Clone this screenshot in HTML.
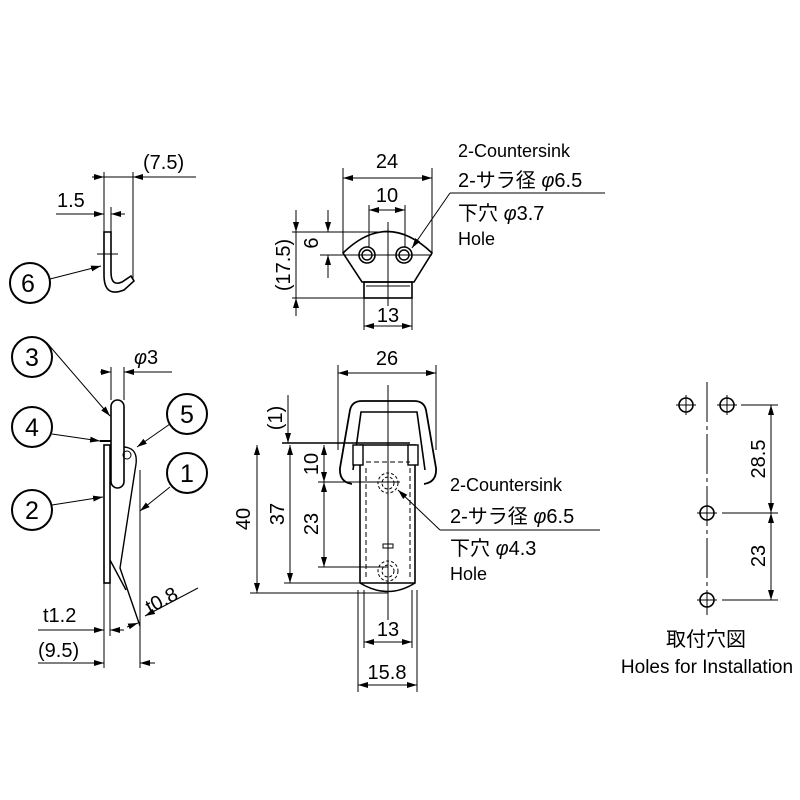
<!DOCTYPE html>
<html><head><meta charset="utf-8"><style>body{margin:0;background:#fff}svg{display:block}</style></head><body>
<svg width="800" height="800" viewBox="0 0 800 800" xmlns="http://www.w3.org/2000/svg" font-family="Liberation Sans, Noto Sans CJK JP, sans-serif" fill="none" stroke="#000">
<defs><marker id="a" viewBox="0 0 10 6" refX="10" refY="3" markerWidth="10" markerHeight="6" orient="auto-start-reverse" markerUnits="userSpaceOnUse"><path d="M0 0L10 3L0 6z" fill="#000" stroke="none"/></marker></defs>
<g stroke-width="1">
<!-- part 6 -->
<circle cx="30" cy="283" r="20" stroke-width="2"/>
<line x1="50" y1="279" x2="101" y2="266" marker-end="url(#a)"/>
<path d="M104 232H111V272Q111 287 122 282L131 276L134 281L124 290Q104 298 104 275Z" stroke-width="1.6"/>
<line x1="97" y1="254" x2="118" y2="254"/>
<line x1="104" y1="172" x2="104" y2="232"/><line x1="133" y1="172" x2="133" y2="280"/><line x1="111" y1="207" x2="111" y2="232"/>
<line x1="92" y1="177" x2="104" y2="177" marker-end="url(#a)"/><line x1="104" y1="177" x2="133" y2="177"/><line x1="196" y1="177" x2="133" y2="177" marker-end="url(#a)"/>
<line x1="56" y1="214" x2="104" y2="214" marker-end="url(#a)"/><line x1="125" y1="214" x2="111" y2="214" marker-end="url(#a)"/>
<!-- side view -->
<circle cx="32" cy="357" r="20" stroke-width="2"/><circle cx="32" cy="427" r="20" stroke-width="2"/><circle cx="32" cy="510" r="20" stroke-width="2"/><circle cx="187" cy="414" r="20" stroke-width="2"/><circle cx="187" cy="473" r="20" stroke-width="2"/>
<rect x="111" y="400" width="13" height="88" rx="6.5" stroke-width="1.6"/>
<rect x="104" y="445" width="6" height="138" stroke-width="1.6"/>
<line x1="100" y1="441" x2="111" y2="441" stroke-width="2"/>
<path d="M124 447Q138 448 136 464L120 568L140 626M110 560L126 590" stroke-width="1.4"/>
<circle cx="127" cy="455" r="4"/>
<line x1="111" y1="367" x2="111" y2="400"/><line x1="124" y1="367" x2="124" y2="400"/>
<line x1="100" y1="372" x2="111" y2="372" marker-end="url(#a)"/><line x1="172" y1="372" x2="124" y2="372" marker-end="url(#a)"/>
<line x1="47" y1="343" x2="110" y2="416" marker-end="url(#a)"/>
<line x1="52" y1="434" x2="100" y2="441" marker-end="url(#a)"/>
<line x1="52" y1="505" x2="103" y2="497" marker-end="url(#a)"/>
<line x1="170" y1="424" x2="137" y2="447" marker-end="url(#a)"/>
<line x1="170" y1="487" x2="140" y2="511" marker-end="url(#a)"/>
<line x1="104" y1="583" x2="104" y2="668"/><line x1="110" y1="583" x2="110" y2="636"/><line x1="140" y1="470" x2="140" y2="668"/>
<line x1="38" y1="630" x2="104" y2="630" marker-end="url(#a)"/><line x1="124" y1="630" x2="110" y2="630" marker-end="url(#a)"/>
<line x1="38" y1="663" x2="104" y2="663" marker-end="url(#a)"/><line x1="155" y1="663" x2="140" y2="663" marker-end="url(#a)"/>
<line x1="127" y1="627" x2="138" y2="623" marker-end="url(#a)"/><line x1="198" y1="588" x2="145" y2="616" marker-end="url(#a)"/>
<!-- top view -->
<path d="M343 253Q387 210 432 253L414 282H362Z" stroke-width="1.6"/>
<rect x="364" y="282" width="48" height="16" stroke-width="1.6"/>
<line x1="366" y1="286" x2="410" y2="286"/>
<circle cx="367" cy="255" r="8" stroke-width="1.6"/><circle cx="367" cy="255" r="5" stroke-width="1.4"/>
<circle cx="404" cy="255" r="8" stroke-width="1.6"/><circle cx="404" cy="255" r="5" stroke-width="1.4"/>
<line x1="388" y1="222" x2="388" y2="306"/><line x1="320" y1="255" x2="432" y2="255"/>
<line x1="343" y1="168" x2="343" y2="253"/><line x1="432" y1="168" x2="432" y2="253"/>
<line x1="343" y1="178" x2="432" y2="178" marker-start="url(#a)" marker-end="url(#a)"/>
<line x1="369" y1="205" x2="369" y2="247"/><line x1="405" y1="205" x2="405" y2="247"/>
<line x1="369" y1="210" x2="405" y2="210" marker-start="url(#a)" marker-end="url(#a)"/>
<line x1="292" y1="232" x2="388" y2="232"/><line x1="292" y1="298" x2="364" y2="298"/>
<line x1="296" y1="210" x2="296" y2="232" marker-end="url(#a)"/><line x1="296" y1="232" x2="296" y2="298"/><line x1="296" y1="316" x2="296" y2="298" marker-end="url(#a)"/>
<line x1="328" y1="210" x2="328" y2="232" marker-end="url(#a)"/><line x1="328" y1="278" x2="328" y2="255" marker-end="url(#a)"/>
<line x1="364" y1="298" x2="364" y2="330"/><line x1="412" y1="298" x2="412" y2="330"/>
<line x1="364" y1="326" x2="412" y2="326" marker-start="url(#a)" marker-end="url(#a)"/>
<line x1="605" y1="193" x2="450" y2="193"/><line x1="450" y1="193" x2="412" y2="248" marker-end="url(#a)"/>
<!-- main view -->
<path d="M352 484Q339 482 340 468L350 410Q352 401 362 401H414Q424 401 426 410L436 468Q437 482 424 484" stroke-width="1.8"/>
<path d="M353 470L361 412H417L425 470" stroke-width="1.6"/>
<path d="M360 445H415V583Q388 600 360 583Z" fill="#fff" stroke-width="1.6"/>
<line x1="360" y1="583" x2="415" y2="583" stroke-width="1.4"/>
<rect x="353" y="445" width="10" height="20" fill="#fff" stroke-width="1.4"/><rect x="408" y="445" width="10" height="20" fill="#fff" stroke-width="1.4"/>
<path d="M366 468V580M410 468V580M366 462H410" stroke-dasharray="5 3"/>
<circle cx="388" cy="483" r="10" stroke-dasharray="3 2"/><circle cx="388" cy="483" r="6" stroke-dasharray="3 2"/>
<circle cx="388" cy="571" r="10" stroke-dasharray="3 2"/><circle cx="388" cy="571" r="6" stroke-dasharray="3 2"/>
<rect x="383" y="544" width="10" height="4"/>
<line x1="388" y1="385" x2="388" y2="620"/>
<line x1="338" y1="365" x2="338" y2="450"/><line x1="436" y1="365" x2="436" y2="450"/>
<line x1="338" y1="373" x2="436" y2="373" marker-start="url(#a)" marker-end="url(#a)"/>
<line x1="282" y1="443" x2="410" y2="443" stroke-width="1.6"/>
<line x1="288" y1="395" x2="288" y2="443" marker-end="url(#a)"/>
<line x1="250" y1="593" x2="388" y2="593"/><line x1="284" y1="583" x2="388" y2="583"/>
<line x1="318" y1="482" x2="400" y2="482"/><line x1="318" y1="567" x2="388" y2="567"/>
<line x1="257" y1="445" x2="257" y2="593" marker-start="url(#a)" marker-end="url(#a)"/>
<line x1="290" y1="445" x2="290" y2="583" marker-start="url(#a)" marker-end="url(#a)"/>
<line x1="324" y1="445" x2="324" y2="482" marker-start="url(#a)" marker-end="url(#a)"/>
<line x1="324" y1="482" x2="324" y2="567" marker-start="url(#a)" marker-end="url(#a)"/>
<line x1="364" y1="590" x2="364" y2="648"/><line x1="412" y1="590" x2="412" y2="648"/>
<line x1="358" y1="590" x2="358" y2="692"/><line x1="417" y1="590" x2="417" y2="692"/>
<line x1="364" y1="642" x2="412" y2="642" marker-start="url(#a)" marker-end="url(#a)"/>
<line x1="358" y1="685" x2="417" y2="685" marker-start="url(#a)" marker-end="url(#a)"/>
<line x1="600" y1="530" x2="440" y2="530"/><line x1="440" y1="530" x2="398" y2="490" marker-end="url(#a)"/>
<!-- install holes -->
<line x1="707" y1="382" x2="707" y2="615" stroke-dasharray="40 4 4 4"/>
<circle cx="686" cy="405" r="7" stroke-width="1.6"/><circle cx="727" cy="405" r="7" stroke-width="1.6"/>
<circle cx="707" cy="513" r="7" stroke-width="1.6"/><circle cx="707" cy="600" r="7" stroke-width="1.6"/>
<path d="M676 405H696M686 395V415M717 405H737M727 395V415M697 513H717M707 503V523M697 600H717M707 590V610"/>
<line x1="741" y1="405" x2="778" y2="405"/><line x1="722" y1="513" x2="778" y2="513"/><line x1="722" y1="600" x2="778" y2="600"/>
<line x1="771" y1="405" x2="771" y2="513" marker-start="url(#a)" marker-end="url(#a)"/>
<line x1="771" y1="513" x2="771" y2="600" marker-start="url(#a)" marker-end="url(#a)"/>
</g>
<g fill="#000" stroke="none" font-size="20">
<text x="28" y="292" font-size="25" text-anchor="middle">6</text>
<text x="32" y="366" font-size="25" text-anchor="middle">3</text>
<text x="32" y="436" font-size="25" text-anchor="middle">4</text>
<text x="32" y="519" font-size="25" text-anchor="middle">2</text>
<text x="187" y="423" font-size="25" text-anchor="middle">5</text>
<text x="187" y="482" font-size="25" text-anchor="middle">1</text>
<text x="143" y="169">(7.5)</text>
<text x="57" y="207">1.5</text>
<text x="134" y="364"><tspan font-style="italic">φ</tspan>3</text>
<text x="43" y="622">t1.2</text>
<text x="38" y="657">(9.5)</text>
<text x="150" y="614" transform="rotate(-28 150 614)">t0.8</text>
<text x="387" y="168" text-anchor="middle">24</text>
<text x="387" y="202" text-anchor="middle">10</text>
<text x="388" y="322" text-anchor="middle">13</text>
<text transform="translate(318 243) rotate(-90)" text-anchor="middle">6</text>
<text transform="translate(290 265) rotate(-90)" text-anchor="middle">(17.5)</text>
<text x="458" y="157" font-size="18">2-Countersink</text>
<text x="458" y="187">2-サラ径 <tspan font-style="italic">φ</tspan>6.5</text>
<text x="458" y="220">下穴 <tspan font-style="italic">φ</tspan>3.7</text>
<text x="458" y="245" font-size="18">Hole</text>
<text x="387" y="365" text-anchor="middle">26</text>
<text transform="translate(282 418) rotate(-90)" text-anchor="middle">(1)</text>
<text transform="translate(250 519) rotate(-90)" text-anchor="middle">40</text>
<text transform="translate(284 514) rotate(-90)" text-anchor="middle">37</text>
<text transform="translate(318 464) rotate(-90)" text-anchor="middle">10</text>
<text transform="translate(318 524) rotate(-90)" text-anchor="middle">23</text>
<text x="388" y="636" text-anchor="middle">13</text>
<text x="387" y="679" text-anchor="middle">15.8</text>
<text x="450" y="491" font-size="18">2-Countersink</text>
<text x="450" y="523">2-サラ径 <tspan font-style="italic">φ</tspan>6.5</text>
<text x="450" y="555">下穴 <tspan font-style="italic">φ</tspan>4.3</text>
<text x="450" y="580" font-size="18">Hole</text>
<text transform="translate(765 459) rotate(-90)" text-anchor="middle">28.5</text>
<text transform="translate(765 556) rotate(-90)" text-anchor="middle">23</text>
<text x="706" y="646" text-anchor="middle" font-size="20">取付穴図</text>
<text x="707" y="673" text-anchor="middle" font-size="19">Holes for Installation</text>
</g>
</svg>
</body></html>
